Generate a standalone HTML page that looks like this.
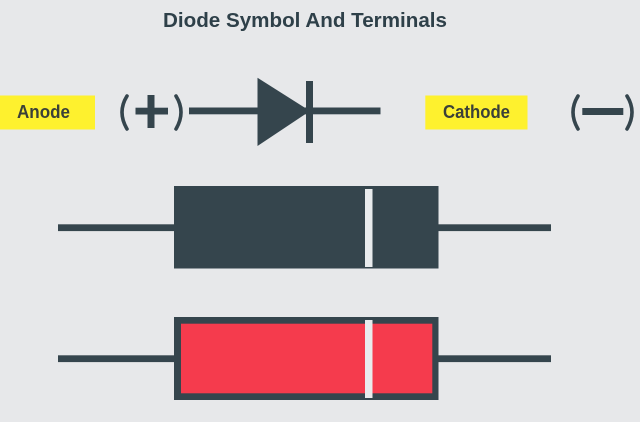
<!DOCTYPE html>
<html>
<head>
<meta charset="utf-8">
<style>
html,body{margin:0;padding:0;background:#e7e8ea;width:640px;height:422px;overflow:hidden}
svg{display:block}
text{font-family:"Liberation Sans",sans-serif;font-weight:bold}
</style>
</head>
<body>
<svg width="640" height="422" viewBox="0 0 640 422" xmlns="http://www.w3.org/2000/svg">
<defs><filter id="b" x="-2%" y="-2%" width="104%" height="104%"><feGaussianBlur stdDeviation="0.35"/></filter></defs>
<rect width="640" height="422" fill="#e7e8ea"/>
<g filter="url(#b)">
<text x="163" y="27" font-size="20.5" fill="#2f3f49" textLength="284" lengthAdjust="spacingAndGlyphs">Diode Symbol And Terminals</text>

<rect x="0" y="95.5" width="95" height="34" fill="#fef12d"/>
<text x="17" y="118" font-size="18" fill="#3a4138" textLength="53" lengthAdjust="spacingAndGlyphs">Anode</text>
<rect x="425.3" y="95.5" width="102.2" height="34" fill="#fef12d"/>
<text x="443" y="118" font-size="18" fill="#3a4138" textLength="67" lengthAdjust="spacingAndGlyphs">Cathode</text>

<g fill="none" stroke="#36454e" stroke-width="3.6" stroke-linecap="round">
<path d="M127 96 Q117 112 127 129"/>
<path d="M176 96 Q186 112 176 129"/>
<path d="M578 96 Q568 112 578 129"/>
<path d="M627 96 Q637 112 627 129"/>
</g>
<g fill="#36454e">
<rect x="135.5" y="107.7" width="32.5" height="6.8"/>
<rect x="147.5" y="95" width="7" height="33"/>
<rect x="582.3" y="108" width="41" height="7"/>

<rect x="189" y="107.5" width="191.5" height="6.8"/>
<polygon points="257.5,77.7 310,111 257.5,146"/>
<rect x="306" y="81" width="7" height="62"/>

<rect x="58" y="224.3" width="493" height="6.8"/>
<rect x="174" y="186" width="264.5" height="82.5"/>

<rect x="58" y="355.3" width="493" height="6.8"/>
<rect x="174" y="317" width="264.5" height="83"/>
</g>
<rect x="181" y="323.7" width="251.3" height="69.6" fill="#f53b4e"/>
<rect x="365" y="189" width="7.5" height="78" fill="#e9ebed"/>
<rect x="365" y="320" width="7.5" height="78" fill="#e9ebed"/>
</g>
</svg>
</body>
</html>
